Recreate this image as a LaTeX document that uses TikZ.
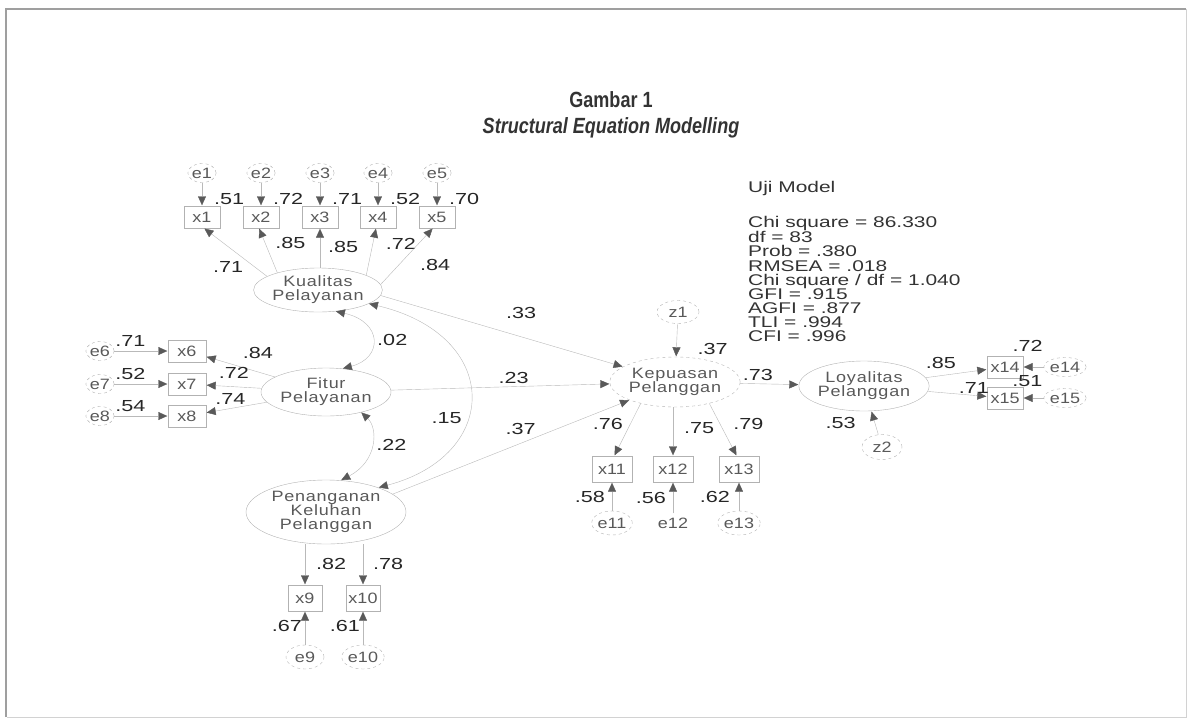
\documentclass[tikz,border=0pt]{standalone}
\usepackage{fontspec}
\setmainfont{Liberation Sans}[FakeStretch=1.2]
\newfontfamily\titlefont{Liberation Sans}[FakeStretch=0.82]
\newfontfamily\latfont{Liberation Sans}[FakeStretch=1.2,LetterSpace=5]
\newfontfamily\numfont{Liberation Sans}[FakeStretch=1.35]
\usetikzlibrary{arrows.meta,shapes.geometric,positioning}

\tikzset{
  lat/.style={ellipse,draw=gray!60,text=black!65,align=center,inner sep=0pt,font=\latfont\fontsize{15}{14}\selectfont},
  obs/.style={rectangle,draw=gray!60,text=black!65,minimum width=36pt,minimum height=22pt,inner sep=0pt,font=\fontsize{15}{15}\selectfont},
  err/.style={ellipse,draw=gray!60,dashed,text=black!65,minimum width=28pt,minimum height=19pt,inner sep=0pt,font=\fontsize{15}{15}\selectfont},
  coef/.style={text=black!85,inner sep=1pt,font=\numfont\fontsize{16}{16}\selectfont}
}

\begin{document}
\begin{tikzpicture}[x=1pt,y=-1pt,>={Triangle[length=9pt,width=8pt,color=black!65]},shorten >=0.5pt,node distance=44pt]
	\useasboundingbox (0,0) rectangle (1189,724);
	\draw[gray!75,line width=1.2pt] (6,717) -- (6,9) -- (1186,9);
	\draw[gray!35] (1186,9) -- (1186,717) -- (6,717);

	\node[text=black!80,font=\titlefont\bfseries\fontsize{22}{22}\selectfont] (judul) at (611,100) {Gambar 1};
	\node[text=black!80,font=\titlefont\bfseries\itshape\fontsize{22}{22}\selectfont] (subjudul) at (611,128) {Structural Equation Modelling};

	\node[lat,minimum width=128pt,minimum height=44pt] (KP) at (318,290) {Kualitas\\Pelayanan};
	\node[lat,minimum width=130pt,minimum height=48pt] (FP) at (326,392) {Fitur\\Pelayanan};
	\node[lat,minimum width=160pt,minimum height=64pt] (PKP) at (326,512) {Penanganan\\Keluhan\\Pelanggan};
	\node[lat,dashed,minimum width=124pt,minimum height=50pt] (KeP) at (675,382) {Kepuasan\\Pelanggan};
	\node[lat,minimum width=120pt,minimum height=50pt] (LP) at (864,386) {Loyalitas\\Pelanggan};

	\node[obs] (x1) at (202,217) {x1};
	\node[obs] (x2) at (261,217) {x2};
	\node[obs] (x3) at (320,217) {x3};
	\node[obs] (x4) at (378,217) {x4};
	\node[obs] (x5) at (437,217) {x5};
	\node[err] (e1) [above of=x1] {e1};
	\node[err] (e2) [above of=x2] {e2};
	\node[err] (e3) [above of=x3] {e3};
	\node[err] (e4) [above of=x4] {e4};
	\node[err] (e5) [above of=x5] {e5};

	\node[obs,minimum width=38pt] (x6) at (187,351) {x6};
	\node[obs,minimum width=38pt] (x7) at (187,384) {x7};
	\node[obs,minimum width=38pt] (x8) at (187,416) {x8};
	\node[err] (e6) [left of=x6,node distance=87pt] {e6};
	\node[err] (e7) [left of=x7,node distance=87pt] {e7};
	\node[err] (e8) [left of=x8,node distance=87pt] {e8};

	\node[obs,minimum width=34pt,minimum height=26pt] (x9) at (305,598) {x9};
	\node[obs,minimum width=34pt,minimum height=26pt] (x10) at (363,598) {x10};
	\node[err,minimum width=38pt,minimum height=24pt] (e9) [below of=x9,node distance=59pt] {e9};
	\node[err,minimum width=38pt,minimum height=24pt] (e10) [below of=x10,node distance=59pt] {e10};

	\node[obs,minimum width=40pt,minimum height=26pt] (x11) at (612,469) {x11};
	\node[obs,minimum width=40pt,minimum height=26pt] (x12) at (673,469) {x12};
	\node[obs,minimum width=40pt,minimum height=26pt] (x13) at (739,469) {x13};
	\node[err,minimum height=24pt] (e11) [below of=x11,node distance=54pt] {e11};
	\node[err,draw=none] (e12) [below of=x12,node distance=54pt] {e12};
	\node[err,minimum height=24pt] (e13) [below of=x13,node distance=54pt] {e13};
	\node[err,minimum width=42pt,minimum height=23pt] (z1) at (678,312) {z1};

	\node[err,minimum width=40pt,minimum height=25pt] (z2) at (882,447) {z2};
	\node[obs] (x14) at (1005,367) {x14};
	\node[obs] (x15) at (1005,398) {x15};
	\node[err] (e14) [right of=x14,node distance=60pt] {e14};
	\node[err] (e15) [right of=x15,node distance=60pt] {e15};

	\node[anchor=west,inner sep=0pt,text=black!80,font=\numfont\fontsize{15.5}{15.5}\selectfont] (uji) at (748,188) {Uji Model};
	\node[anchor=north west,align=left,inner sep=0pt,text=black!80,font=\numfont\fontsize{15.5}{14.1}\selectfont] (fit) at (748,216)
		{Chi square = 86.330\\df = 83\\Prob = .380\\RMSEA = .018\\Chi square / df = 1.040\\GFI = .915\\AGFI = .877\\TLI = .994\\CFI = .996};

	\path[->,color=gray!55]
		(e1) edge node[coef,pos=0.7,right=11pt] {.51} (x1)
		(e2) edge node[coef,pos=0.7,right=11pt] {.72} (x2)
		(e3) edge node[coef,pos=0.7,right=11pt] {.71} (x3)
		(e4) edge node[coef,pos=0.7,right=11pt] {.52} (x4)
		(e5) edge node[coef,pos=0.7,right=11pt] {.70} (x5)
		(KP.165) edge node[coef,pos=0.2,left=10pt] {.71} (x1.-80)
		(KP.157) edge node[coef,pos=0.67,right=9pt] {.85} (x2.-100)
		(KP.north -| x3) edge node[coef,pos=0.52,right=7pt] {.85} (x3)
		(KP.17) edge node[coef,pos=0.66,right=12pt] {.72} (x4.-100)
		(KP.5) edge node[coef,pos=0.35,right=20pt] {.84} (x5.-110);

	\path[->,color=gray!55]
		(e6) edge node[coef,pos=0.3,above=3pt] {.71} (x6)
		(e7) edge node[coef,pos=0.3,above=3pt] {.52} (x7)
		(e8) edge node[coef,pos=0.3,above=3pt] {.54} (x8)
		(FP) edge node[coef,pos=0.25,above=12pt] {.84} (x6)
		(FP) edge node[coef,pos=0.5,above=7pt] {.72} (x7)
		(FP) edge node[coef,pos=0.6,above=3pt] {.74} (x8);

	\path[->,color=gray!55]
		(PKP.south -| x9) edge node[coef,pos=0.49,right=10pt] {.82} (x9)
		(PKP.south -| x10) edge node[coef,pos=0.49,right=9pt] {.78} (x10)
		(e9) edge node[coef,pos=0.56,left=2pt] {.67} (x9)
		(e10) edge node[coef,pos=0.56,left=2pt] {.61} (x10);

	\path[->,color=gray!55]
		(KP.-5) edge node[coef,pos=0.58,above=17pt] {.33} (KeP)
		(FP) edge node[coef,pos=0.56,above=2pt] {.23} (KeP)
		(PKP.15) edge node[coef,pos=0.54,above=7pt] {.37} (KeP)
		(z1) edge node[coef,pos=0.75,right=20pt] {.37} (KeP)
		(KeP.-148) edge node[coef,pos=0.4,left=6pt] {.76} (x11.80)
		(KeP.south -| x12) edge node[coef,pos=0.43,right=10pt] {.75} (x12)
		(KeP.-32) edge node[coef,pos=0.4,right=12pt] {.79} (x13.100)
		(e11) edge node[coef,pos=0.5,left=6pt] {.58} (x11)
		(e12) edge node[coef,pos=0.5,left=6pt] {.56} (x12)
		(e13) edge node[coef,pos=0.5,left=8pt] {.62} (x13)
		(KeP) edge node[coef,pos=0.3,above=2pt] {.73} (LP)
		(z2) edge node[coef,pos=0.5,left=18pt] {.53} (LP)
		(LP) edge node[coef,pos=0.25,above=6pt] {.85} (x14)
		(LP) edge node[coef,pos=0.78,above=1pt] {.71} (x15)
		(e14) edge node[coef,pos=0.78,above=14pt] {.72} (x14)
		(e15) edge node[coef,pos=0.8,above=10pt] {.51} (x15);

	\draw[<->,gray!55] (KP.-50) .. controls (383,322) and (383,358) .. node[coef,right=4pt] {.02} (FP.55);
	\draw[<->,gray!55] (FP.-30) .. controls (378,428) and (378,461) .. node[coef,right=4pt] {.22} (PKP.65);
	\draw[<->,gray!55] (KP.-15) .. controls (502,335) and (502,455) .. node[coef,pos=0.6,left=4pt] {.15} (PKP.25);
\end{tikzpicture}
\end{document}
